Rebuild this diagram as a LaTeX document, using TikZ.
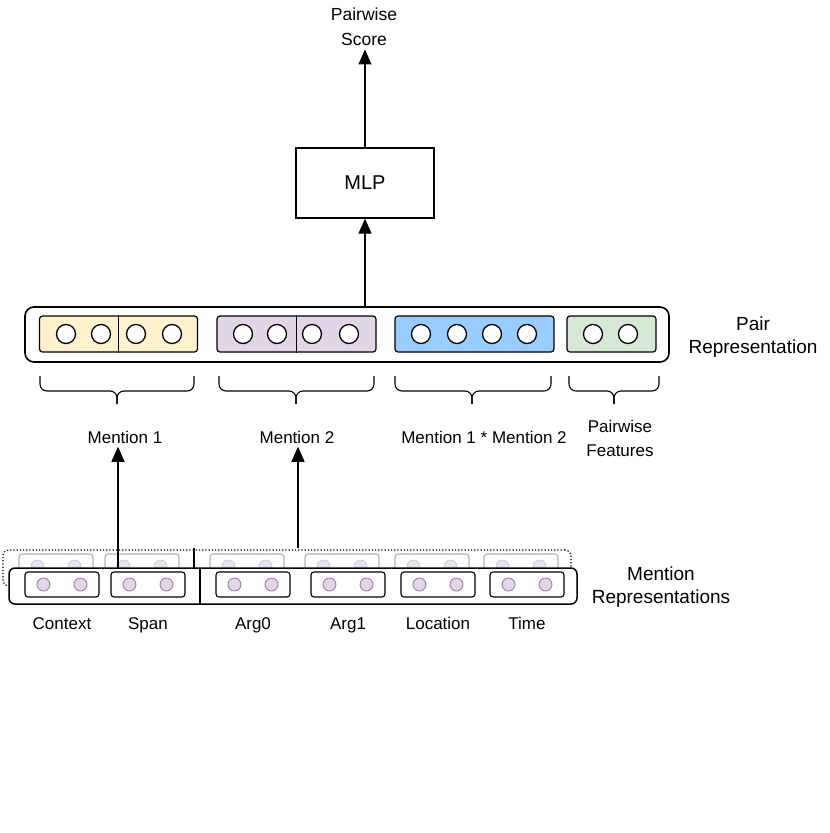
\documentclass[tikz,border=0pt]{standalone}
\usepackage{fontspec}
\setmainfont{Liberation Sans}
\usetikzlibrary{positioning, arrows.meta, calc}
\definecolor{fillyellow}{RGB}{255,242,204}
\definecolor{fillpurple}{RGB}{225,213,231}
\definecolor{strokepurple}{RGB}{150,115,166}
\definecolor{fillblue}{RGB}{153,204,255}
\definecolor{fillgreen}{RGB}{213,232,212}

\begin{document}
\begin{tikzpicture}[
  x=1pt, y=-1pt,
  font=\fontsize{17}{24}\selectfont,
  grp/.style={draw, rounded corners=3pt, line width=1.2pt, minimum height=36pt, inner sep=0pt},
  dot/.style={circle, draw, fill=white, line width=1.3pt, minimum size=19pt, inner sep=0pt},
  slot/.style={draw, rounded corners=3pt, line width=1.1pt, minimum width=74pt,
               minimum height=25pt, inner sep=0pt, fill=white},
  mdot/.style={circle, draw=strokepurple, fill=fillpurple, line width=0.8pt,
               minimum size=13pt, inner sep=0pt},
  arrow/.style={-{Triangle[length=15pt, width=13pt]}, line width=1.2pt},
  lbl/.style={align=center},
  big/.style={align=center, font=\fontsize{19}{23}\selectfont}
]
  \useasboundingbox (0,0) rectangle (830,833);

  % top: score and MLP
  \node[lbl, font=\fontsize{17.5}{25}\selectfont] (score) at (364,27) {Pairwise\\Score};
  \node[draw, line width=1.2pt, minimum width=138pt, minimum height=70pt,
        font=\fontsize{20}{24}\selectfont] (mlp) at (365,183) {MLP};

  % pair representation
  \node[draw, rounded corners=9pt, line width=1.6pt, minimum width=644pt,
        minimum height=55pt] (pair) at (347,334.5) {};
  \node[grp, fill=fillyellow, minimum width=158pt] (m1) at (118.5,334) {};
  \node[grp, fill=fillpurple, minimum width=159pt] (m2) at (296.5,334) {};
  \node[grp, fill=fillblue, minimum width=159pt] (prod) at (474.5,334) {};
  \node[grp, fill=fillgreen, minimum width=89pt] (feat) at (611.5,334) {};
  \draw[line width=1pt] (m1.north) -- (m1.south);
  \draw[line width=1pt] (m2.north) -- (m2.south);
  \foreach \x in {66,101,136,172,243,277,312,349,421,457,492,527,593,628}
    \node[dot] (c\x) at (\x,334) {};
  \node[big] (pairlbl) at (753,337) {Pair\\Representation};

  % braces
  \foreach \l/\r/\m in {40/194/117, 219/374/296, 395/551/472, 569/659/614} {
    \draw[line width=1.1pt, rounded corners=7pt] (\l,376) -- (\l,391) -- (\m,391) -- (\m,404);
    \draw[line width=1.1pt, rounded corners=7pt] (\r,376) -- (\r,391) -- (\m,391) -- (\m,404);
  }
  \node (lab1) at (125,437) {Mention 1};
  \node (lab2) at (297,437) {Mention 2};
  \node (lab3) at (484,437) {Mention 1 * Mention 2};
  \node[lbl] (lab4) at (620,438) {Pairwise\\Features};

  % mention representations, back copy
  \begin{scope}[shift={(-6,-18)}]
    \node[draw, dotted, rounded corners=6pt, line width=1.2pt, minimum width=568pt,
          minimum height=36pt] (mentback) at (293,586) {};
    \draw[line width=1.1pt] (200,566) -- (200,586);
    \foreach \x/\name in {62/ctx, 148/span, 253/arga, 348/argb, 438/loc, 527/time} {
      \node[slot, draw=gray!60] (\name-back) at (\x,584.5) {};
      \node[mdot, draw=strokepurple!40, fill=fillpurple!70] (\name-back-a) at ([xshift=-18.5pt]\name-back.center) {};
      \node[mdot, draw=strokepurple!40, fill=fillpurple!70] (\name-back-b) at ([xshift=18.5pt]\name-back.center) {};
    }
  \end{scope}

  % mention representations, front
  \node[draw, fill=white, rounded corners=6pt, line width=1.5pt, minimum width=568pt,
        minimum height=36pt] (ment) at (293,586) {};
  \draw[line width=1.1pt] (200,568) -- (200,604);
  \foreach \x/\name/\txt in {62/ctx/Context, 148/span/Span, 253/arga/Arg0,
                             348/argb/Arg1, 438/loc/Location, 527/time/Time} {
    \node[slot] (\name) at (\x,584.5) {};
    \node[mdot] (\name-a) at ([xshift=-18.5pt]\name.center) {};
    \node[mdot] (\name-b) at ([xshift=18.5pt]\name.center) {};
    \node[anchor=base] (\name-lbl) at (\x,629) {\txt};
  }
  \node[big] (mentlbl) at (661,587) {Mention\\Representations};

  % arrows
  \coordinate (src1) at (118,568);
  \coordinate (src2) at (298,548);
  \draw[arrow] (src1) -- (src1 |- lab1.south);
  \draw[arrow] (src2) -- (src2 |- lab2.south);
  \draw[arrow] (pair.north -| mlp.south) -- (mlp.south);
  \draw[arrow] (mlp.north) -- (mlp.north |- score.south);
\end{tikzpicture}
\end{document}
